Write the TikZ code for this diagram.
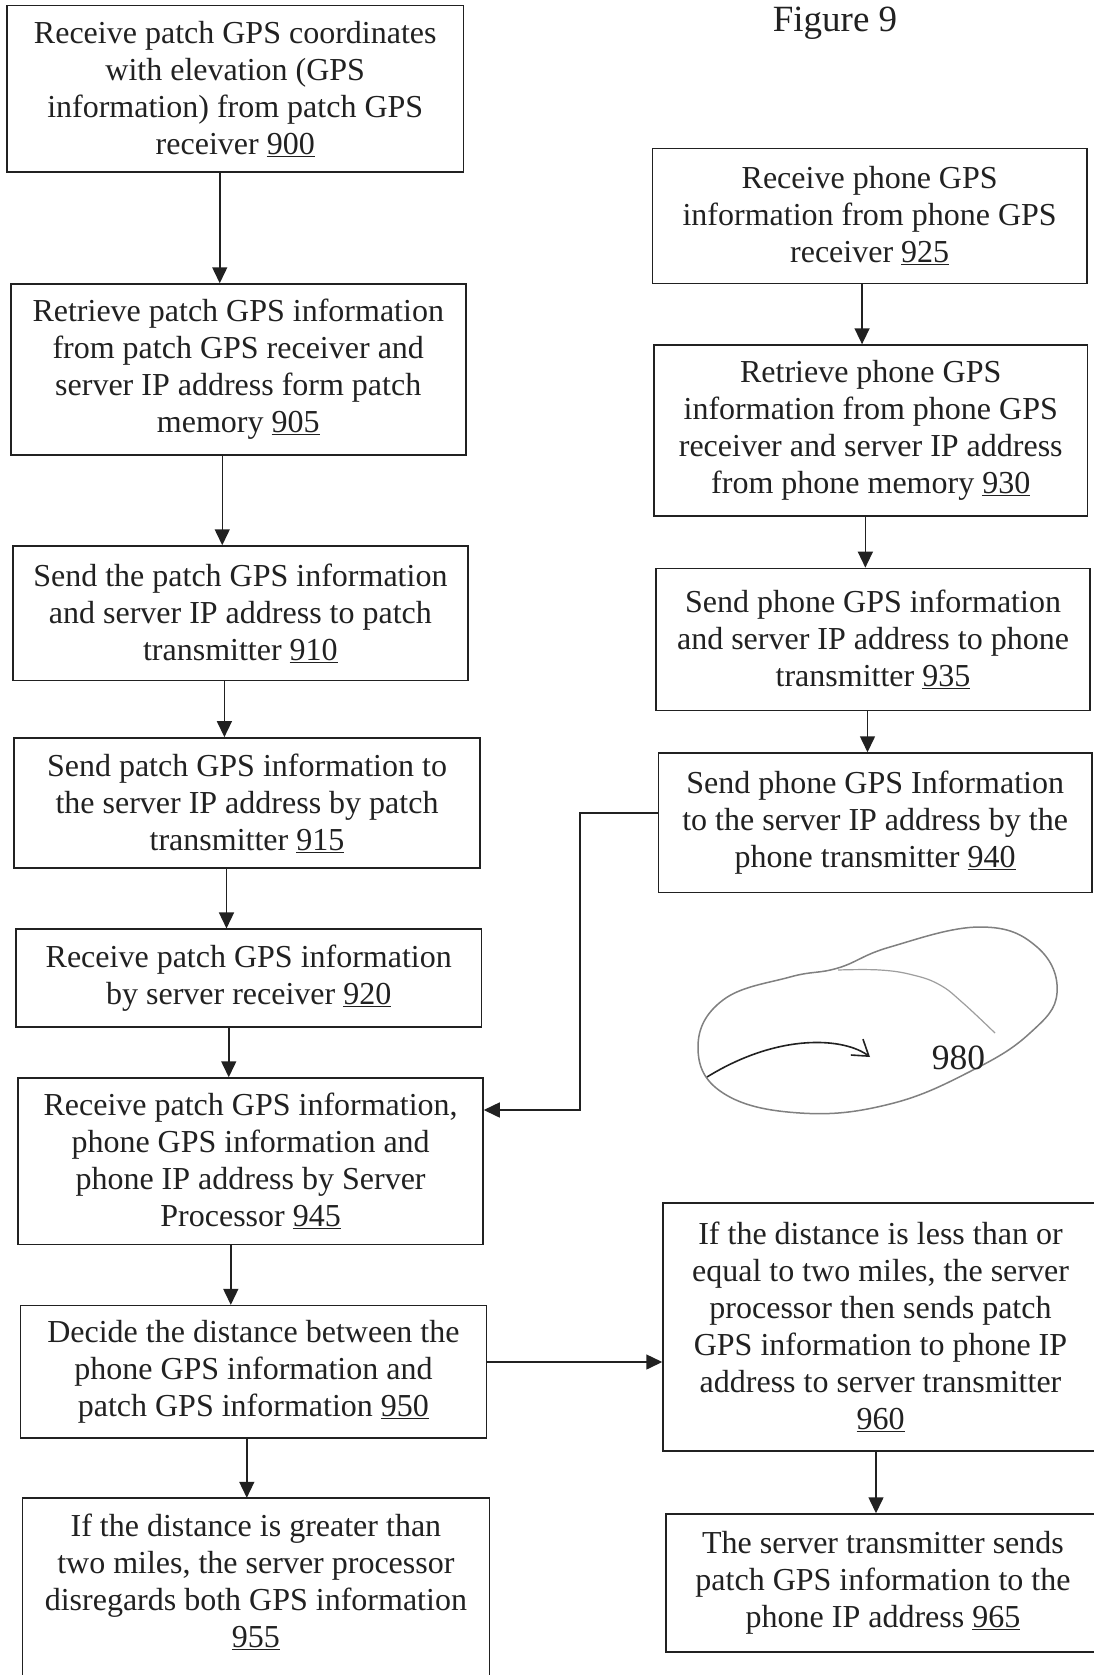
\documentclass[tikz,border=0pt]{standalone}
\usepackage{fontspec}
\setmainfont{Liberation Serif}
\usetikzlibrary{arrows.meta}
\definecolor{ink}{gray}{0.13}
\definecolor{pencil}{gray}{0.50}
\definecolor{pencillight}{gray}{0.62}
\tikzset{
  stepbox/.style={draw=ink, line width=1.5pt, align=center, inner sep=0pt,
    text=ink, font=\fontsize{32}{37}\selectfont},
  textonly/.style={align=center, inner sep=0pt, text=ink,
    font=\fontsize{32}{37}\selectfont},
  boxline/.style={draw=ink, line width=1.5pt},
  flow/.style={draw=ink, line width=1.5pt, -{Triangle[length=16pt,width=15pt]}},
  loopline/.style={draw=pencil, line width=1.5pt},
}
\begin{document}
\begin{tikzpicture}[x=1pt, y=-1pt]
\useasboundingbox (0,0) rectangle (1093,1675);
\fill[white] (0,0) rectangle (1093,1675);

% title
\node[anchor=base, text=ink, font=\fontsize{37}{40}\selectfont, inner sep=0pt] (title) at (835,31.7) {Figure 9};

% left column
\node[stepbox, minimum width=456.5pt, minimum height=166.5pt] (b900) at (235.25,88.75)
  {Receive patch GPS coordinates\\with elevation (GPS\\information) from patch GPS\\receiver \underline{900}};
\node[stepbox, minimum width=455pt, minimum height=171pt] (b905) at (238.25,369.5)
  {Retrieve patch GPS information\\from patch GPS receiver and\\server IP address form patch\\memory \underline{905}};
\node[stepbox, minimum width=455.2pt, minimum height=134.6pt] (b910) at (240.4,613.3)
  {Send the patch GPS information\\and server IP address to patch\\transmitter \underline{910}};
\node[stepbox, minimum width=466pt, minimum height=130.3pt] (b915) at (247,803)
  {Send patch GPS information to\\the server IP address by patch\\transmitter \underline{915}};
\node[stepbox, minimum width=465.5pt, minimum height=97.8pt] (b920) at (248.75,978.1)
  {Receive patch GPS information\\by server receiver \underline{920}};
\node[stepbox, minimum width=464.8pt, minimum height=166.7pt] (b945) at (250.6,1161.35)
  {Receive patch GPS information,\\phone GPS information and\\phone IP address by Server\\Processor \underline{945}};
\node[stepbox, minimum width=466.2pt, minimum height=132.4pt] (b950) at (253.4,1371.8)
  {Decide the distance between the\\phone GPS information and\\patch GPS information \underline{950}};
\node[textonly, minimum width=466.8pt, minimum height=167.6pt] (b955) at (255.9,1581.8)
  {If the distance is greater than\\two miles, the server processor\\disregards both GPS information\\\underline{955}};
\draw[boxline] ([yshift=-30pt]b955.south west) -- (b955.north west)
  -- (b955.north east) -- ([yshift=-30pt]b955.south east);

% right column
\node[stepbox, minimum width=434.7pt, minimum height=135pt] (b925) at (869.65,215.8)
  {Receive phone GPS\\information from phone GPS\\receiver \underline{925}};
\node[stepbox, minimum width=433.7pt, minimum height=171pt] (b930) at (870.75,430.5)
  {Retrieve phone GPS\\information from phone GPS\\receiver and server IP address\\from phone memory \underline{930}};
\node[stepbox, minimum width=434pt, minimum height=142.1pt] (b935) at (873,639.45)
  {Send phone GPS information\\and server IP address to phone\\transmitter \underline{935}};
\node[stepbox, minimum width=433.7pt, minimum height=139.5pt] (b940) at (875.15,822.75)
  {Send phone GPS Information\\to the server IP address by the\\phone transmitter \underline{940}};
\node[stepbox, minimum width=435pt, minimum height=248pt] (b960) at (880.5,1327)
  {If the distance is less than or\\equal to two miles, the server\\processor then sends patch\\GPS information to phone IP\\address to server transmitter\\\underline{960}};
\node[stepbox, minimum width=434pt, minimum height=138pt] (b965) at (883,1583)
  {The server transmitter sends\\patch GPS information to the\\phone IP address \underline{965}};

% connectors, left column
\draw[flow] ([xshift=-15.5pt]b900.south) -- ([xshift=-15.5pt]b900.south |- b905.north);
\draw[flow] ([xshift=-16pt]b905.south) -- ([xshift=-16pt]b905.south |- b910.north);
\draw[flow] ([xshift=-16pt]b910.south) -- ([xshift=-16pt]b910.south |- b915.north);
\draw[flow] ([xshift=-20.5pt]b915.south) -- ([xshift=-20.5pt]b915.south |- b920.north);
\draw[flow] ([xshift=-20pt]b920.south) -- ([xshift=-20pt]b920.south |- b945.north);
\draw[flow] ([xshift=-19.8pt]b945.south) -- ([xshift=-19.8pt]b945.south |- b950.north);
\draw[flow] ([xshift=-6.6pt]b950.south) -- ([xshift=-6.6pt]b950.south |- b955.north);

% connectors, right column
\draw[flow] ([xshift=-7.6pt]b925.south) -- ([xshift=-7.6pt]b925.south |- b930.north);
\draw[flow] ([xshift=-5.4pt]b930.south) -- ([xshift=-5.4pt]b930.south |- b935.north);
\draw[flow] ([xshift=-5.5pt]b935.south) -- ([xshift=-5.5pt]b935.south |- b940.north);
\draw[flow] ([xshift=-4.5pt]b960.south) -- ([xshift=-4.5pt]b960.south |- b965.north);

% cross connectors
\coordinate (bend) at (580,1110);
\draw[flow] ([yshift=10pt]b940.west) -| (bend) -- (bend -| b945.east);
\draw[flow] ([yshift=9.8pt]b950.east) -- ([yshift=9.8pt]b950.east -| b960.west);

% loop sketch 980
\draw[loopline] plot[smooth cycle, tension=0.7] coordinates {
  (698,1047) (723,1000) (790,977) (838,968) (890,947) (980,927)
  (1037,947) (1057,993) (1030,1033) (973,1070) (890,1104) (800,1113) (723,1093)};
\draw[draw=pencillight, line width=1.2pt] plot[smooth, tension=0.7] coordinates {
  (838,970) (880,970) (913,975) (940,985) (963,1003) (995,1033)};
\draw[draw=ink, line width=1.6pt, -{Straight Barb[length=15pt,width=20pt]}]
  (707,1077) .. controls (780,1032) and (845,1038) .. (870,1057);
\node[anchor=base, text=ink, font=\fontsize{35.5}{38}\selectfont, inner sep=0pt] (n980) at (958.5,1069) {980};
\end{tikzpicture}
\end{document}
